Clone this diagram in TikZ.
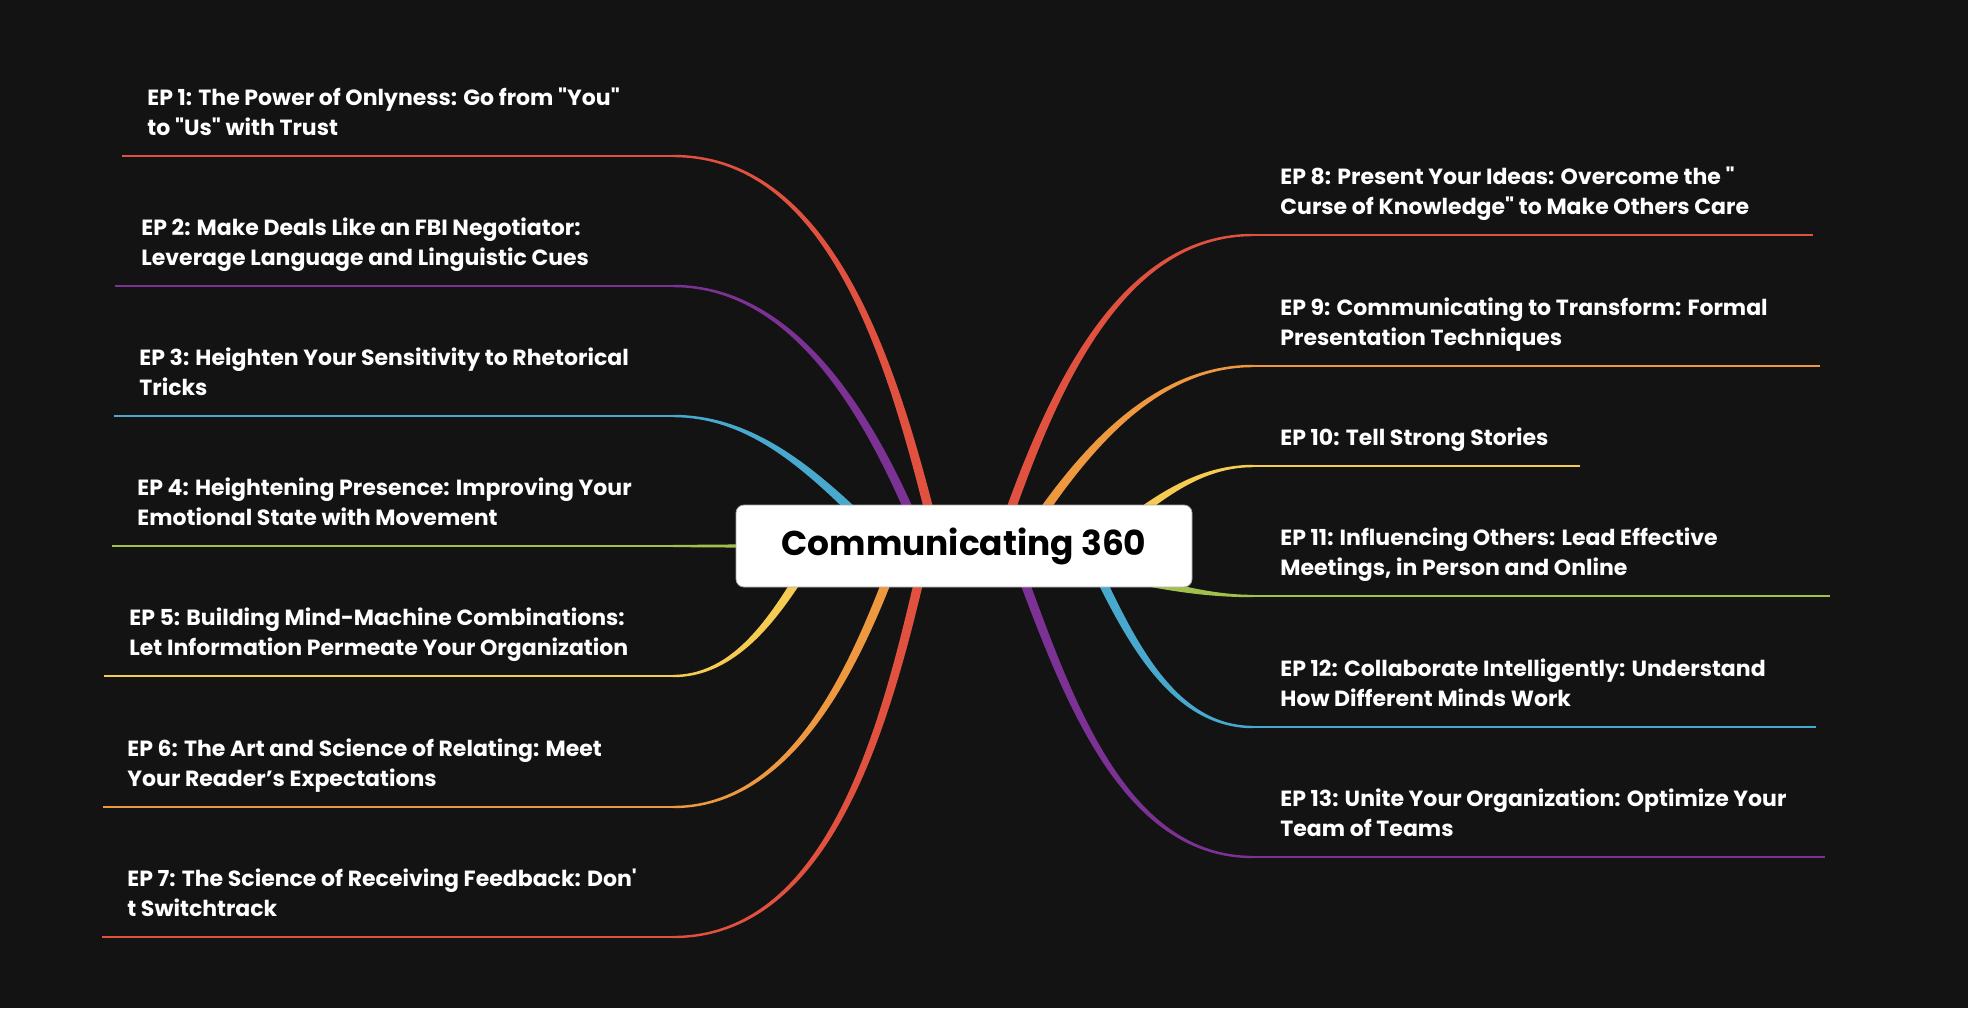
\documentclass[tikz,border=0pt]{standalone}
\usepackage{fontspec}
\setmainfont{Poppins}
\usetikzlibrary{calc}
\definecolor{bgdark}{RGB}{19,19,19}
\definecolor{epred}{RGB}{224,81,64}
\definecolor{eppurple}{RGB}{123,50,148}
\definecolor{epblue}{RGB}{73,168,206}
\definecolor{epgreen}{RGB}{161,193,76}
\definecolor{epyellow}{RGB}{246,203,82}
\definecolor{eporange}{RGB}{238,152,64}
% tapered branch: colour, number, angle at root, angle at joint
\newcommand{\twig}[4]{%
  \filldraw[#1,line width=1.2pt,line join=round] (j#2) to[out=#4,in=#3,looseness=0.9] ($(r#2)+(#3+90:1.75pt)$)
    -- ($(r#2)+(#3-90:1.75pt)$) to[out=#3,in=#4,looseness=0.9] (j#2);
  \draw[#1,line width=1.25pt] (j#2) -- (t#2);}
\newcommand{\qq}{\textquotedbl}

\begin{document}
\begin{tikzpicture}[x=0.5pt,y=-0.5pt,
    ep/.style={text=white,font=\bfseries\fontsize{11}{14.75}\selectfont,align=left,inner sep=0pt,anchor=base west},
    hub/.style={fill=white,draw=gray!70,rounded corners=4pt,minimum width=228pt,minimum height=41pt,
      text=black,font=\bfseries\fontsize{17.2}{20}\selectfont}]
  \fill[bgdark] (0,0) rectangle (1968,1008);
  % left side
  \coordinate(r1) at (938,546); \coordinate(j1) at (673,156); \coordinate(t1) at (122,156);
  \coordinate(r2) at (924,546); \coordinate(j2) at (673,286); \coordinate(t2) at (115,286);
  \coordinate(r3) at (889,546); \coordinate(j3) at (673,416); \coordinate(t3) at (114,416);
  \coordinate(r4) at (964,546); \coordinate(j4) at (673,546); \coordinate(t4) at (112,546);
  \coordinate(r5) at (818,546); \coordinate(j5) at (673,676); \coordinate(t5) at (104,676);
  \coordinate(r6) at (900,546); \coordinate(j6) at (673,807); \coordinate(t6) at (103,807);
  \coordinate(r7) at (927,546); \coordinate(j7) at (673,937); \coordinate(t7) at (102,937);
  \twig{epred}{1}{104}{0}
  \twig{eppurple}{2}{112}{0}
  \twig{epblue}{3}{136}{0}
  \twig{epgreen}{4}{180}{0}
  \twig{epyellow}{5}{239}{0}
  \twig{eporange}{6}{250}{0}
  \twig{epred}{7}{257}{0}
  % right side
  \coordinate(r8) at (998,546); \coordinate(j8) at (1253,235); \coordinate(t8) at (1813,235);
  \coordinate(r9) at (1020,546); \coordinate(j9) at (1253,366); \coordinate(t9) at (1820,366);
  \coordinate(r10) at (1097,546); \coordinate(j10) at (1253,466); \coordinate(t10) at (1580,466);
  \coordinate(r11) at (1120,576); \coordinate(j11) at (1253,596); \coordinate(t11) at (1830,596);
  \coordinate(r12) at (1085,546); \coordinate(j12) at (1253,727); \coordinate(t12) at (1816,727);
  \coordinate(r13) at (1011,546); \coordinate(j13) at (1253,857); \coordinate(t13) at (1825,857);
  \twig{epred}{8}{71}{180}
  \twig{eporange}{9}{57}{180}
  \twig{epyellow}{10}{38}{180}
  \twig{epgreen}{11}{-12}{180}
  \twig{epblue}{12}{296}{180}
  \twig{eppurple}{13}{291}{180}
  % labels (base = last line)
  \node[ep](ep1) at (147,135) {EP 1: The Power of Onlyness: Go from \qq You\qq\\to \qq Us\qq{} with Trust};
  \node[ep](ep2) at (141,265) {EP 2: Make Deals Like an FBI Negotiator:\\Leverage Language and Linguistic Cues};
  \node[ep](ep3) at (139,395) {EP 3: Heighten Your Sensitivity to Rhetorical\\Tricks};
  \node[ep](ep4) at (137,525) {EP 4: Heightening Presence: Improving Your\\Emotional State with Movement};
  \node[ep](ep5) at (129,655) {EP 5: Building Mind-Machine Combinations:\\Let Information Permeate Your Organization};
  \node[ep](ep6) at (127,786) {EP 6: The Art and Science of Relating: Meet\\Your Reader’s Expectations};
  \node[ep](ep7) at (127,916) {EP 7: The Science of Receiving Feedback: Don\textquotesingle\\t Switchtrack};
  \node[ep](ep8) at (1280,214) {EP 8: Present Your Ideas: Overcome the \qq\\Curse of Knowledge\qq{} to Make Others Care};
  \node[ep](ep9) at (1280,345) {EP 9: Communicating to Transform: Formal\\Presentation Techniques};
  \node[ep](ep10) at (1280,445) {EP 10: Tell Strong Stories};
  \node[ep](ep11) at (1280,575) {EP 11: Influencing Others: Lead Effective\\Meetings, in Person and Online};
  \node[ep](ep12) at (1280,706) {EP 12: Collaborate Intelligently: Understand\\How Different Minds Work};
  \node[ep](ep13) at (1280,836) {EP 13: Unite Your Organization: Optimize Your\\Team of Teams};
  \node[hub](hub) at (964,546) {Communicating 360};
\end{tikzpicture}
\end{document}
